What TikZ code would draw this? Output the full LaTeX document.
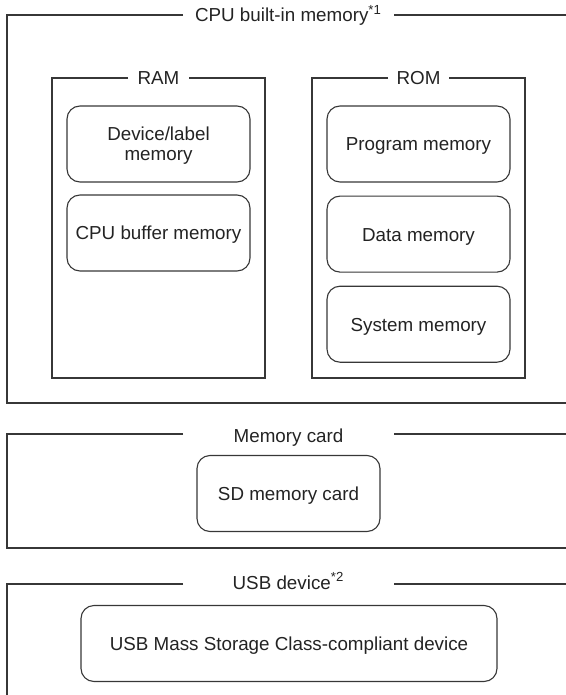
\documentclass[tikz,border=0pt]{standalone}
\usepackage{fontspec}
\setmainfont{Liberation Sans}
\usetikzlibrary{positioning}

\begin{document}
\begin{tikzpicture}[x=0.5pt, y=-0.5pt]

\definecolor{linegray}{RGB}{55, 55, 55}
\definecolor{textgray}{RGB}{35, 35, 35}

% Page size
\useasboundingbox (0,0) rectangle (566,695);

\tikzset{
    frame line/.style={
        draw=linegray, line width=0.8pt
    },
    group line/.style={
        draw=linegray, line width=0.65pt
    },
    frame title/.style={
        text=textgray, font=\fontsize{9.4}{10.5}\selectfont,
        anchor=base, inner sep=0pt
    },
    memory block/.style={
        draw=linegray, line width=0.55pt, rounded corners=6.5pt,
        minimum width=91.5pt, minimum height=38pt, inner sep=0pt,
        text=textgray, font=\fontsize{9.4}{10.5}\selectfont, align=center
    },
    one line/.style={
        text height=0.9em, text depth=0.2em
    },
    two lines/.style={
        font=\fontsize{9.4}{9.7}\selectfont, text height=18pt, text depth=1.95pt
    }
}

% CPU built-in memory
\draw[frame line] (183,15) -- (7,15) -- (7,403) -- (566,403);
\draw[frame line] (394,15) -- (566,15);
\node[frame title] (cpu) at (288.5,21.7) {CPU built-in memory\textsuperscript{*1}};

% RAM group
\draw[group line] (128,78) -- (52,78) -- (52,378) -- (265,378) -- (265,78) -- (189,78);
\node[frame title] (ram) at (158.5,85) {RAM};
\node[memory block, two lines] (devlabel) at (158.5,144) {Device/label\\memory};
\node[memory block, one line] (cpubuf) at (158.5,233) {CPU buffer memory};

% ROM group
\draw[group line] (388,78) -- (312,78) -- (312,378) -- (525,378) -- (525,78) -- (449,78);
\node[frame title] (rom) at (418.5,85) {ROM};
\node[memory block, one line] (progmem) at (418.5,144) {Program memory};
\node[memory block, one line, below=6.5pt of progmem] (datamem) {Data memory};
\node[memory block, one line, below=6.5pt of datamem] (sysmem) {System memory};

% Memory card
\draw[frame line] (183,434) -- (7,434) -- (7,548) -- (566,548);
\draw[frame line] (394,434) -- (566,434);
\node[frame title] (mcard) at (288.5,442) {Memory card};
\node[memory block, one line] (sdcard) at (288.5,493.5) {SD memory card};

% USB device
\draw[frame line] (183,584) -- (7,584) -- (7,695);
\draw[frame line] (394,584) -- (566,584);
\node[frame title] (usb) at (288.5,589.5) {USB device\textsuperscript{*2}};
\node[memory block, one line, minimum width=208pt] (usbdev) at (289,643.5) {USB Mass Storage Class-compliant device};

\end{tikzpicture}
\end{document}
